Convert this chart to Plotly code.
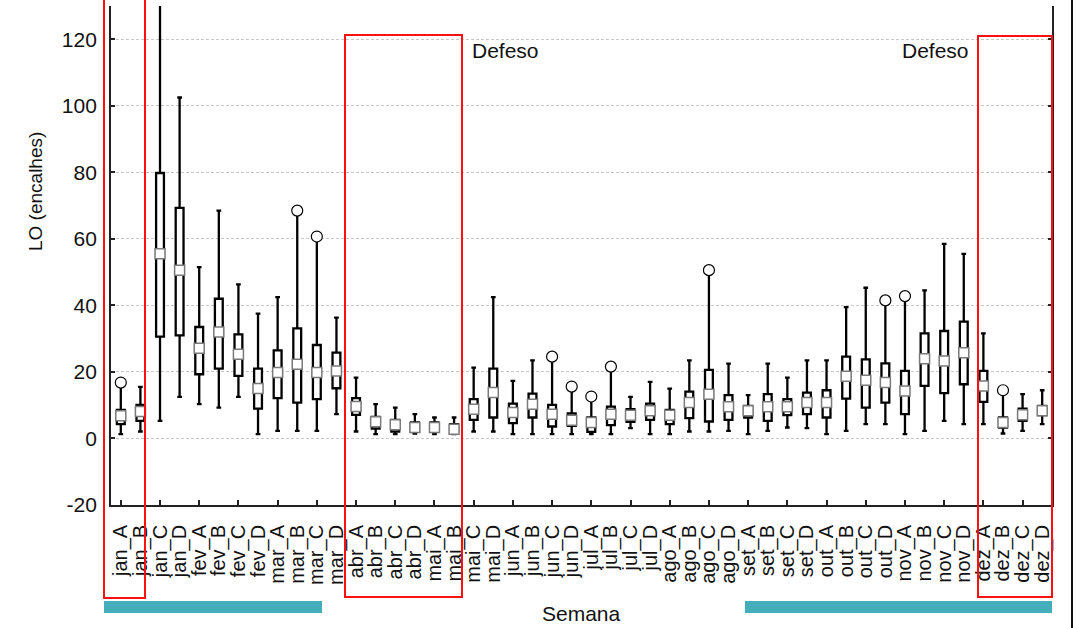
import plotly.graph_objects as go

# ---------------- data ----------------
categories = ["jan_A", "jan_B", "jan_C", "jan_D", "fev_A", "fev_B", "fev_C", "fev_D",
              "mar_A", "mar_B", "mar_C", "mar_D", "abr_A", "abr_B", "abr_C", "abr_D",
              "mai_A", "mai_B", "mai_C", "mai_D", "jun_A", "jun_B", "jun_C", "jun_D",
              "jul_A", "jul_B", "jul_C", "jul_D", "ago_A", "ago_B", "ago_C", "ago_D",
              "set_A", "set_B", "set_C", "set_D", "out_A", "out_B", "out_C", "out_D",
              "nov_A", "nov_B", "nov_C", "nov_D", "dez_A", "dez_B", "dez_C", "dez_D"]

whisker_low = [1.3, 2.1, 5.3, 12.5, 10.3, 9.3, 12.5, 1.3,
               2.3, 2.3, 2.3, 7.3, 2.1, 1.3, 1.3, 1.5,
               1.3, 1.3, 2.1, 2.1, 1.3, 1.3, 1.3, 1.3,
               1.3, 1.3, 3.1, 1.3, 1.3, 2.1, 2.1, 2.3,
               1.3, 2.3, 3.3, 3.1, 1.3, 2.3, 4.3, 4.3,
               1.3, 2.3, 5.3, 4.3, 4.3, 1.5, 2.3, 4.3]
q1 = [4.3, 5.3, 30.6, 31.0, 19.3, 21.0, 18.8, 9.0,
      12.1, 10.8, 11.8, 15.1, 7.1, 3.0, 2.1, 2.0,
      2.0, 1.8, 5.6, 6.3, 4.6, 6.3, 3.6, 3.8,
      2.0, 4.0, 5.0, 5.6, 4.3, 6.1, 5.1, 5.6,
      6.3, 5.3, 7.0, 7.3, 6.3, 12.0, 9.3, 10.8,
      7.3, 15.8, 13.6, 16.3, 11.0, 3.3, 5.3, 7.0]
median = [6.8, 8.1, 55.5, 50.6, 27.1, 32.0, 25.3, 15.0,
          19.8, 22.3, 19.8, 20.3, 9.6, 5.0, 4.1, 3.3,
          3.3, 2.8, 8.8, 13.8, 7.8, 10.3, 7.3, 5.5,
          4.8, 7.3, 7.0, 8.3, 7.0, 10.8, 13.3, 9.5,
          8.3, 9.5, 9.5, 10.8, 10.8, 18.7, 17.5, 16.8,
          14.3, 24.0, 23.3, 25.8, 15.8, 4.8, 7.1, 8.3]
q3 = [8.6, 10.1, 79.8, 69.3, 33.5, 42.0, 31.3, 21.0,
      26.5, 33.1, 28.1, 25.8, 12.1, 6.5, 5.6, 4.8,
      4.8, 4.3, 11.8, 21.0, 10.5, 13.5, 10.1, 7.5,
      6.3, 9.6, 8.8, 10.5, 8.6, 14.1, 20.6, 13.0,
      9.8, 13.3, 11.8, 13.8, 14.5, 24.6, 23.8, 22.6,
      20.3, 31.6, 32.3, 35.1, 20.3, 6.3, 9.0, 9.8]
whisker_high = [15.5, 15.5, 140.0, 102.5, 51.5, 68.5, 46.3, 37.5,
                42.5, 67.3, 59.5, 36.3, 18.3, 10.3, 9.3, 7.3,
                6.3, 6.3, 21.3, 42.5, 17.3, 23.5, 23.3, 14.5,
                11.5, 20.5, 12.5, 17.0, 15.0, 23.5, 49.3, 22.5,
                13.0, 22.5, 18.3, 23.5, 23.5, 39.5, 45.3, 40.3,
                41.8, 44.5, 58.5, 55.5, 31.6, 13.3, 13.3, 14.5]

outlier_cat = ["jan_A", "mar_B", "mar_C", "jun_C", "jun_D", "jul_A", "jul_B",
               "ago_C", "out_D", "nov_A", "dez_B"]
outlier_val = [16.8, 68.5, 60.7, 24.6, 15.6, 12.6, 21.6, 50.6, 41.5, 42.8, 14.5]

y_ticks = [-20, 0, 20, 40, 60, 80, 100, 120]
y_tick_text = ["-20", "0", "20", "40", "60", "80", "100", "120"]
defeso_label = "Defeso"
x_title = "Semana"
y_title = "LO (encalhes)"

# ---------------- layout helpers ----------------
W, H = 1082, 628
ML, MR, MT, MB = 111, 30, 6, 123
PW, PH = W - ML - MR, H - MT - MB


def px_x(p):
    return (p - ML) / PW


def px_y(p):
    return (H - MB - p) / PH


xpos = list(range(len(categories)))
pos_of = {c: i for i, c in enumerate(categories)}

fig = go.Figure()

fig.add_trace(go.Box(
    x=xpos, q1=q1, median=median, q3=q3,
    lowerfence=whisker_low, upperfence=whisker_high,
    width=0.4, whiskerwidth=0.6, boxpoints=False,
    line=dict(color="black", width=2.3), fillcolor="white",
    showlegend=False, hoverinfo="skip"))

fig.add_trace(go.Scatter(
    x=xpos, y=median, mode="markers",
    marker=dict(symbol="square", size=10, color="white",
                line=dict(color="#7a7a7a", width=1.5)),
    showlegend=False, hoverinfo="skip"))

fig.add_trace(go.Scatter(
    x=[pos_of[c] for c in outlier_cat], y=outlier_val, mode="markers",
    marker=dict(symbol="circle", size=11, color="white",
                line=dict(color="black", width=1.2)),
    showlegend=False, hoverinfo="skip"))

font_family = "Liberation Sans, Arial, sans-serif"
txt_color = "#111111"

fig.update_layout(
    width=W, height=H,
    margin=dict(l=ML, r=MR, t=MT, b=MB, pad=0),
    paper_bgcolor="white", plot_bgcolor="white",
    font=dict(family=font_family, color=txt_color, size=19),
    showlegend=False,
    xaxis=dict(
        range=[-0.5, len(categories) - 0.5],
        tickmode="array", tickvals=xpos, ticktext=categories,
        tickangle=-90, ticks="", ticklabelstandoff=10,
        tickfont=dict(size=20, family=font_family, color=txt_color),
        showline=True, linecolor="#222222", linewidth=1.8, mirror=False,
        showgrid=False, zeroline=False,
        minor=dict(tickmode="array", tickvals=list(range(0, len(categories), 2)),
                   ticks="inside", ticklen=5, tickwidth=1.5, tickcolor="#222222",
                   showgrid=False),
    ),
    yaxis=dict(
        range=[-20, 130], tickmode="array", tickvals=y_ticks, ticktext=y_tick_text,
        ticks="inside", ticklen=4, tickwidth=1.5, tickcolor="#222222",
        tickfont=dict(size=21, family=font_family, color=txt_color),
        ticklabelstandoff=8,
        showline=True, linecolor="#222222", linewidth=1.8, mirror="ticks",
        showgrid=True, gridcolor="#c8c8c8", gridwidth=1, griddash="3px,2px",
        zeroline=False,
    ),
)

# axis titles as annotations
fig.add_annotation(x=px_x(581), y=px_y(613), xref="paper", yref="paper",
                   xanchor="center", yanchor="middle",
                   text=x_title, showarrow=False,
                   font=dict(size=21, family=font_family, color=txt_color))
fig.add_annotation(x=px_x(35), y=px_y(192), xref="paper", yref="paper",
                   xanchor="center", yanchor="middle",
                   text=y_title, showarrow=False, textangle=-90,
                   font=dict(size=19, family=font_family, color=txt_color))

# Defeso labels
for cx in (505, 935):
    fig.add_annotation(x=px_x(cx), y=px_y(51), xref="paper", yref="paper",
                       xanchor="center", yanchor="middle",
                       text=defeso_label, showarrow=False,
                       font=dict(size=21, family=font_family, color=txt_color))

shapes = []
# red rectangles
for (x0, x1, y0, y1) in [(104, 145, -4, 598), (345, 462, 35, 597), (978, 1052, 36, 597)]:
    shapes.append(dict(type="rect", xref="paper", yref="paper",
                       x0=px_x(x0), x1=px_x(x1), y0=px_y(y1), y1=px_y(y0),
                       line=dict(color="#ff1010", width=2), fillcolor="rgba(0,0,0,0)",
                       layer="above"))
# teal bars
for (x0, x1) in [(104, 322), (745, 1052)]:
    shapes.append(dict(type="rect", xref="paper", yref="paper",
                       x0=px_x(x0), x1=px_x(x1), y0=px_y(613), y1=px_y(601),
                       line=dict(width=0), fillcolor="#45aebb", layer="above"))
# outer black vertical line on the right
shapes.append(dict(type="line", xref="paper", yref="paper",
                   x0=px_x(1072), x1=px_x(1072), y0=px_y(628), y1=px_y(0),
                   line=dict(color="#111111", width=2)))
fig.update_layout(shapes=shapes)

fig.write_html("out.html", config={"displayModeBar": False},
               post_script="document.body.style.margin='0';document.body.style.padding='0';")
